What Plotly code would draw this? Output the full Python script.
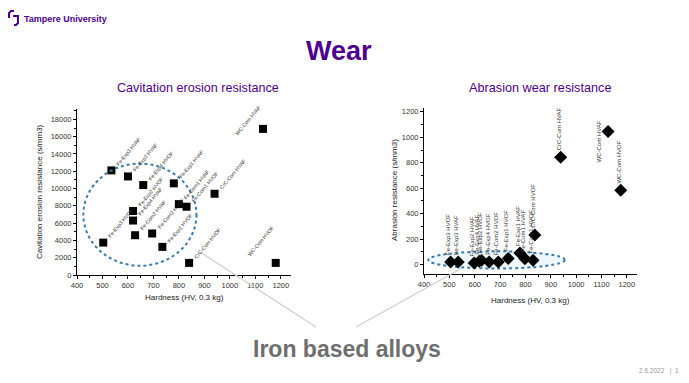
import plotly.graph_objects as go

W, H = 689, 383

# ---------------- data ----------------
cav_hv = [503, 535, 600, 660, 620, 620, 628, 695, 735, 780, 800, 830, 840, 940, 1130, 1180]
cav_res = [3750, 12100, 11400, 10400, 7400, 6300, 4600, 4800, 3250, 10600, 8200, 7900, 1400, 9400, 16900, 1400]
cav_labels = ["Fe-Exp3 HVOF", "Fe-Exp3 HVAF", "Fe-Exp2 HVAF", "Fe-Exp4 HVOF", "Fe-Exp2 HVOF",
              "Fe-Exp4 HVAF", "Fe-Com2 HVAF", "Fe-Com2 HVOF", "Fe-Exp1 HVOF", "Fe-Exp1 HVAF",
              "Fe-Com1 HVAF", "Fe-Com1 HVOF", "CrC-Com HVOF", "CrC-Com HVAF", "WC-Com HVAF",
              "WC-Com HVOF"]

abr_hv = [505, 535, 598, 618, 627, 657, 693, 732, 778, 798, 830, 837, 939, 1126, 1176]
abr_res = [22, 22, 13, 26, 34, 21, 21, 49, 91, 47, 34, 234, 844, 1046, 584]
abr_labels = ["Fe-Exp3 HVOF", "Fe-Exp3 HVAF", "Fe-Exp2 HVAF", "Fe-Exp4 HVAF", "Fe-Exp2 HVOF",
              "Fe-Exp4 HVOF", "Fe-Com2 HVOF", "Fe-Exp1 HVOF", "Fe-Exp1 HVAF", "Fe-Com1 HVAF",
              "Fe-Com1 HVOF", "CrC-Com HVOF", "CrC-Com HVAF", "WC-Com HVAF", "WC-Com HVOF"]

x_ticks = [400, 500, 600, 700, 800, 900, 1000, 1100, 1200]
cav_ticks = [0, 2000, 4000, 6000, 8000, 10000, 12000, 14000, 16000, 18000]
abr_ticks = [0, 200, 400, 600, 800, 1000, 1200]

PURPLE = "#4e008e"
FONT = "Arial, Liberation Sans, sans-serif"


def fx(p):
    return p / W


def fy(p):
    return 1 - p / H


fig = go.Figure()
fig.add_trace(go.Scatter(x=cav_hv, y=cav_res, mode="markers", xaxis="x", yaxis="y",
                         marker=dict(symbol="square", size=8, color="black"), showlegend=False))
fig.add_trace(go.Scatter(x=abr_hv, y=abr_res, mode="markers", xaxis="x2", yaxis="y2",
                         marker=dict(symbol="diamond", size=10, color="black"), showlegend=False))

axis_common = dict(showgrid=False, zeroline=False, showline=True, linecolor="black", linewidth=1,
                   ticks="outside", ticklen=3, tickcolor="black", automargin=False,
                   tickformat="d",
                   tickfont=dict(family=FONT, size=7.5, color="#333"),
                   minor=dict(ticks="outside", ticklen=2, tickcolor="black"))

fig.update_layout(
    template="none",
    width=W, height=H, margin=dict(l=0, r=0, t=0, b=0, pad=0, autoexpand=False),
    paper_bgcolor="white", plot_bgcolor="white", showlegend=False,
    xaxis=dict(domain=[fx(77), fx(291)], range=[400, 1240], tickvals=x_ticks, anchor="y",
               minor_dtick=50, **axis_common),
    yaxis=dict(domain=[fy(275), fy(109)], range=[0, 19200], tickvals=cav_ticks, anchor="x",
               minor_dtick=1000, **axis_common),
    xaxis2=dict(domain=[fx(424), fx(637)], range=[400, 1240], tickvals=x_ticks, anchor="y2",
                minor_dtick=50, **axis_common),
    yaxis2=dict(domain=[fy(273.6), fy(108)], range=[-70, 1230], tickvals=abr_ticks, anchor="x2",
                minor_dtick=100, **axis_common),
)


def txt(text, x, y, size, color, xanchor="center", angle=0):
    return dict(text=text, x=fx(x), y=fy(y), xref="paper", yref="paper", showarrow=False,
                xanchor=xanchor, yanchor="middle", textangle=angle,
                font=dict(family=FONT, size=size, color=color))


anns = [
    txt("<b>Wear</b>", 339, 51, 27, PURPLE),
    txt("Cavitation erosion resistance", 198, 88, 12.6, PURPLE),
    txt("Abrasion wear resistance", 540, 88, 12.7, PURPLE),
    txt("<b>Iron based alloys</b>", 347, 349, 23, "#6e6e6e"),
    txt("<b>Tampere University</b>", 22, 19, 9, PURPLE, xanchor="left"),
    txt("2.6.2022   |  1", 681, 371, 6.5, "#999", xanchor="right"),
    txt("Cavitation erosion resistance (s/mm3)", 40, 192, 8, "#222", angle=-90),
    txt("Hardness (HV, 0.3 kg)", 184, 297, 8, "#222"),
    txt("Abrasion resistance (s/mm3)", 394, 190, 8, "#222", angle=-90),
    txt("Hardness (HV, 0.3 kg)", 530, 300, 8, "#222"),
]

# point labels (left: diagonal, mostly to the upper right of each point)
for xv, yv, t in zip(cav_hv, cav_res, cav_labels):
    if t.startswith("WC-Com"):
        pos = dict(xanchor="right", yanchor="bottom", xshift=2, yshift=(-10 if "HVAF" in t else 3))
    else:
        pos = dict(xanchor="left", yanchor="bottom", xshift=1, yshift=1)
    anns.append(dict(text=t, x=xv, y=yv, xref="x", yref="y", textangle=-50, showarrow=False,
                     font=dict(family=FONT, size=5.2, color="#333"), **pos))
# point labels (right: vertical, above each point)
for xv, yv, t in zip(abr_hv, abr_res, abr_labels):
    if t == "WC-Com HVAF":
        pos = dict(xanchor="right", yanchor="middle", xshift=-4, yshift=-10)
    else:
        pos = dict(xanchor="center", yanchor="bottom", xshift=-2, yshift=5)
    anns.append(dict(text=t, x=xv, y=yv, xref="x2", yref="y2", textangle=-90, showarrow=False,
                     font=dict(family=FONT, size=6, color="#333"), **pos))
fig.update_layout(annotations=anns)

shapes = []
# ellipses
shapes.append(dict(type="circle", xref="x", yref="y", x0=425, x1=869, y0=1070, y1=12890,
                   line=dict(color="#3d7ba3", width=2, dash="dot")))
shapes.append(dict(type="circle", xref="x2", yref="y2", x0=417, x1=955, y0=-30, y1=105,
                   fillcolor="rgba(205,232,246,0.35)",
                   line=dict(color="#3d7ba3", width=2, dash="dot"), layer="below"))
# grey connector lines
shapes.append(dict(type="line", xref="paper", yref="paper", x0=fx(200), y0=fy(252), x1=fx(316), y1=fy(327),
                   line=dict(color="#cfcfcf", width=1.2)))
shapes.append(dict(type="line", xref="paper", yref="paper", x0=fx(462), y0=fy(268), x1=fx(356), y1=fy(327),
                   line=dict(color="#cfcfcf", width=1.2)))


# logo
def path(pts):
    return "M " + " L ".join(f"{fx(a)},{fy(b)}" for a, b in pts)


shapes.append(dict(type="path", xref="paper", yref="paper",
                   path=path([(9, 18), (9, 13), (11, 11), (14, 11)]),
                   line=dict(color=PURPLE, width=2)))
shapes.append(dict(type="path", xref="paper", yref="paper",
                   path=path([(13, 16), (18, 16), (18, 23), (16, 25), (14, 25)]),
                   line=dict(color=PURPLE, width=2)))
fig.update_layout(shapes=shapes)

fig.write_html("out.html", config={"displayModeBar": False},
               post_script="document.body.style.margin='0';document.body.style.padding='0';")
